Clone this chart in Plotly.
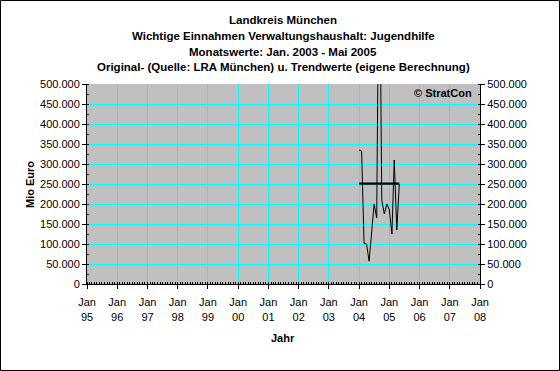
import plotly.graph_objects as go

# ---- data ----
months = ["2004-01-01", "2004-02-01", "2004-03-01", "2004-04-01", "2004-05-01",
          "2004-06-01", "2004-07-01", "2004-08-01", "2004-09-01", "2004-10-01",
          "2004-11-01", "2004-12-01", "2005-01-01", "2005-02-01", "2005-03-01",
          "2005-04-01", "2005-05-01"]
original = [335000, 332000, 102000, 100000, 57000, 130000, 200000, 165000, 950000,
            210000, 175000, 200000, 185000, 125000, 310000, 135000, 250000]
trend = [251000] * 17

year_ticks = ["1995-01-01", "1996-01-01", "1997-01-01", "1998-01-01", "1999-01-01",
              "2000-01-01", "2001-01-01", "2002-01-01", "2003-01-01", "2004-01-01",
              "2005-01-01", "2006-01-01", "2007-01-01", "2008-01-01"]
year_labels = ["Jan<br>95", "Jan<br>96", "Jan<br>97", "Jan<br>98", "Jan<br>99",
               "Jan<br>00", "Jan<br>01", "Jan<br>02", "Jan<br>03", "Jan<br>04",
               "Jan<br>05", "Jan<br>06", "Jan<br>07", "Jan<br>08"]
y_ticks = [0, 50000, 100000, 150000, 200000, 250000, 300000, 350000, 400000, 450000, 500000]
y_labels = ["0", "50.000", "100.000", "150.000", "200.000", "250.000", "300.000",
            "350.000", "400.000", "450.000", "500.000"]
title_lines = ["Landkreis München",
               "Wichtige Einnahmen Verwaltungshaushalt: Jugendhilfe",
               "Monatswerte: Jan. 2003 - Mai 2005",
               "Original- (Quelle: LRA München) u. Trendwerte (eigene Berechnung)"]

FONT = "Liberation Sans, Arial, sans-serif"
W, H = 560, 371
L, R, T, B = 87, 80, 84, 87
PW, PH = W - L - R, H - T - B


def px(x):
    return (x - L) / PW


def py(y):
    return (H - B - y) / PH


fig = go.Figure()
fig.add_trace(go.Scatter(x=months, y=original, mode="lines",
                         line=dict(color="black", width=1), showlegend=False,
                         hoverinfo="skip"))
fig.add_trace(go.Scatter(x=months, y=trend, mode="lines", yaxis="y2",
                         line=dict(color="black", width=2.2), showlegend=False,
                         hoverinfo="skip"))

axis_common = dict(showline=True, linecolor="black", linewidth=1,
                   ticks="outside", ticklen=4, tickcolor="black",
                   tickfont=dict(family=FONT, size=11, color="black"))

fig.update_layout(
    width=W, height=H,
    margin=dict(l=L, r=R, t=T, b=B, pad=0),
    paper_bgcolor="white", plot_bgcolor="#C0C0C0",
    xaxis=dict(type="date", range=["1995-01-01", "2008-01-01"],
               tickmode="array", tickvals=year_ticks, ticktext=year_labels,
               showgrid=True, gridcolor="#00FFFF", gridwidth=1,
               minor=dict(ticks="inside", ticklen=2, dtick="M1", tick0="1995-01-01",
                          tickcolor="black", showgrid=False),
               ticklabelstandoff=4,
               **axis_common),
    yaxis=dict(range=[0, 500000], tickmode="array", tickvals=y_ticks, ticktext=y_labels,
               showgrid=True, gridcolor="#00FFFF", gridwidth=1, zeroline=False,
               minor=dict(ticks="inside", ticklen=2, dtick=25000, tickcolor="black",
                          showgrid=False),
               **axis_common),
    yaxis2=dict(range=[0, 500000], overlaying="y", side="right", anchor="x",
                tickmode="array", tickvals=y_ticks, ticktext=y_labels,
                showgrid=False, zeroline=False,
                minor=dict(ticks="inside", ticklen=2, dtick=25000, tickcolor="black",
                           showgrid=False),
                **axis_common),
)

title_y = [20, 36, 52, 67]
for txt, yy in zip(title_lines, title_y):
    fig.add_annotation(text="<b>" + txt + "</b>", xref="paper", yref="paper",
                       x=px(283), y=py(yy), xanchor="center", yanchor="middle",
                       showarrow=False, font=dict(family=FONT, size=11.5, color="black"))

fig.add_annotation(text="<b>Mio Euro</b>", xref="paper", yref="paper",
                   x=px(30), y=py(185), xanchor="center", yanchor="middle",
                   textangle=-90, showarrow=False,
                   font=dict(family=FONT, size=11, color="black"))
fig.add_annotation(text="<b>Jahr</b>", xref="paper", yref="paper",
                   x=px(283), y=py(338), xanchor="center", yanchor="middle",
                   showarrow=False, font=dict(family=FONT, size=11, color="black"))
fig.add_annotation(text="<b>© StratCon</b>", xref="paper", yref="paper",
                   x=px(474), y=py(93), xanchor="right", yanchor="middle",
                   showarrow=False, font=dict(family=FONT, size=11, color="black"))

fig.add_shape(type="rect", xref="paper", yref="paper",
              x0=px(0.5), x1=px(W - 0.5), y0=py(H - 0.5), y1=py(0.5),
              line=dict(color="black", width=1), fillcolor="rgba(0,0,0,0)", layer="above")

fig.write_html("out.html",
               config={"displayModeBar": False, "staticPlot": True},
               post_script="document.body.style.margin='0';document.body.style.overflow='hidden';")
